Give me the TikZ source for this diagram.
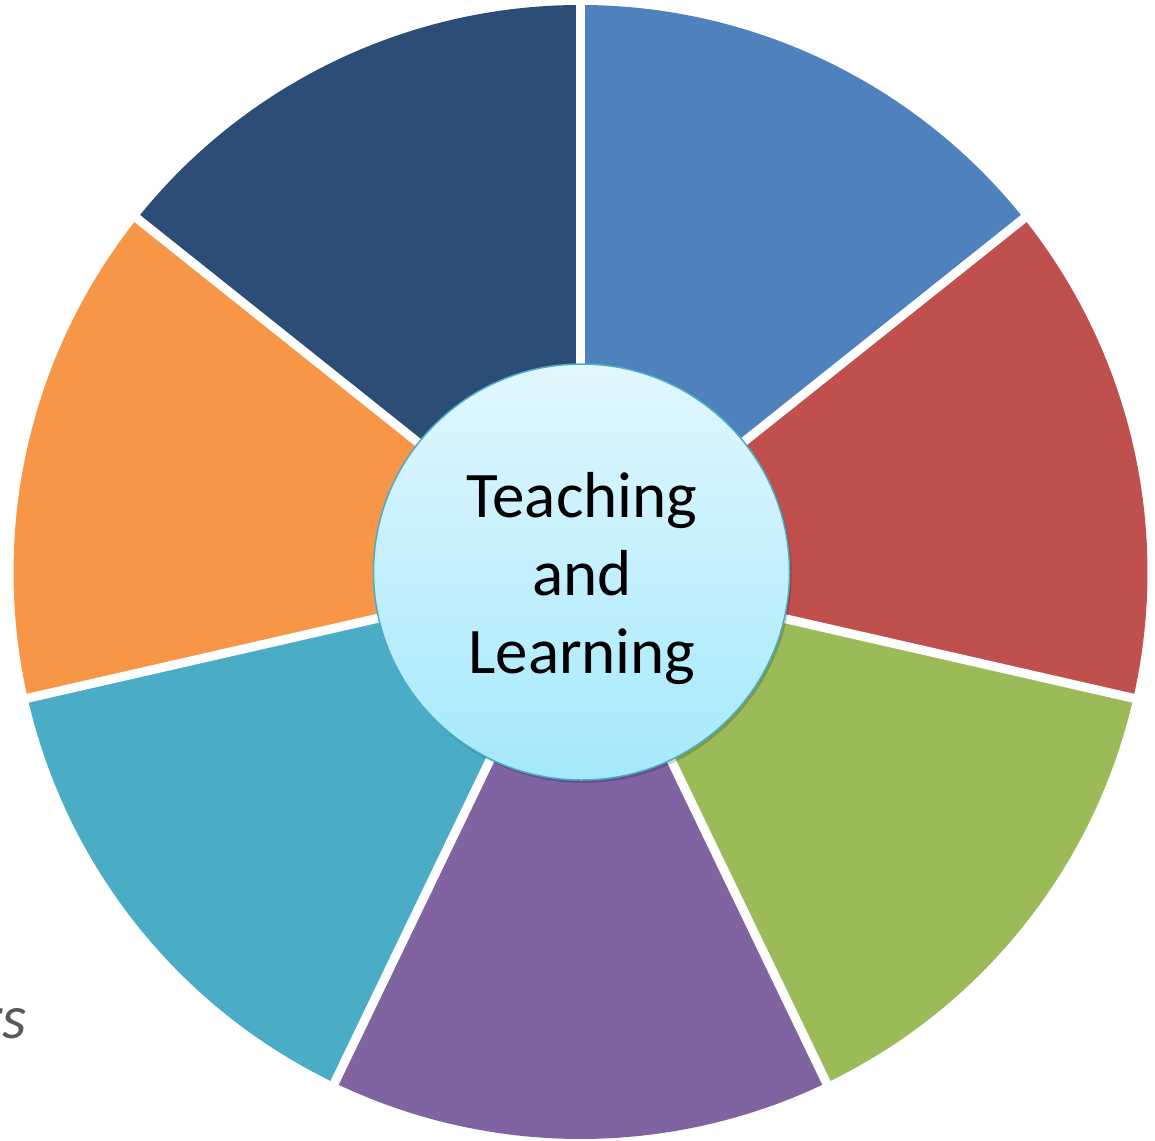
\documentclass[tikz,border=0pt]{standalone}
\usepackage{fontspec}
\setmainfont{Carlito}
\definecolor{segBlue}{HTML}{4F81BD}
\definecolor{segRed}{HTML}{C0504D}
\definecolor{segGreen}{HTML}{9BBB59}
\definecolor{segPurple}{HTML}{8064A2}
\definecolor{segTeal}{HTML}{4BACC6}
\definecolor{segOrange}{HTML}{F79646}
\definecolor{segNavy}{HTML}{2C4D75}
\definecolor{hubTop}{HTML}{E2F7FD}
\definecolor{hubBottom}{HTML}{A4E9FC}
\definecolor{hubEdge}{HTML}{4BACC6}
\definecolor{noteGray}{HTML}{595959}

\begin{document}
\begin{tikzpicture}[x=1pt,y=1pt,yscale=-1,xscale=1,
  gapline/.style={white, line width=9},
  hub/.style={circle, minimum size=416pt, inner sep=0pt, draw=hubEdge, line width=1.5,
    top color=hubTop, bottom color=hubBottom}]
\useasboundingbox (0,0) rectangle (1155,1140);
\coordinate (c) at (580.5,572);

%Shape: Sector [blue]
\fill [segBlue] (c) -- ++(-90:567) arc [start angle=-90, end angle=-38.57, radius=567] -- cycle;
%Shape: Sector [red]
\fill [segRed] (c) -- ++(-38.57:567) arc [start angle=-38.57, end angle=12.86, radius=567] -- cycle;
%Shape: Sector [green]
\fill [segGreen] (c) -- ++(12.86:567) arc [start angle=12.86, end angle=64.29, radius=567] -- cycle;
%Shape: Sector [purple]
\fill [segPurple] (c) -- ++(64.29:567) arc [start angle=64.29, end angle=115.71, radius=567] -- cycle;
%Shape: Sector [teal]
\fill [segTeal] (c) -- ++(115.71:567) arc [start angle=115.71, end angle=167.14, radius=567] -- cycle;
%Shape: Sector [orange]
\fill [segOrange] (c) -- ++(167.14:567) arc [start angle=167.14, end angle=218.57, radius=567] -- cycle;
%Shape: Sector [navy]
\fill [segNavy] (c) -- ++(218.57:567) arc [start angle=218.57, end angle=270, radius=567] -- cycle;

%Straight Lines [gaps]
\draw [gapline] (c) -- ++(-90:580);
\draw [gapline] (c) -- ++(-38.57:580);
\draw [gapline] (c) -- ++(12.86:580);
\draw [gapline] (c) -- ++(64.29:580);
\draw [gapline] (c) -- ++(115.71:580);
\draw [gapline] (c) -- ++(167.14:580);
\draw [gapline] (c) -- ++(218.57:580);

%Shape: Circle [shadow]
\fill [black, opacity=0.18] (583.5,575) circle [radius=208];

% Hub Node
\node [hub] (hub) at (581.5,572) {};
% Text Node
\node [font=\fontsize{65}{78}\selectfont, align=center] (title) at (582,579) {Teaching\\and\\Learning};
% Text Node
\node [anchor=base east, font=\fontsize{62}{78}\selectfont\itshape, text=noteGray, inner sep=0pt] (note) at (27,1038) {rs};

\end{tikzpicture}
\end{document}
